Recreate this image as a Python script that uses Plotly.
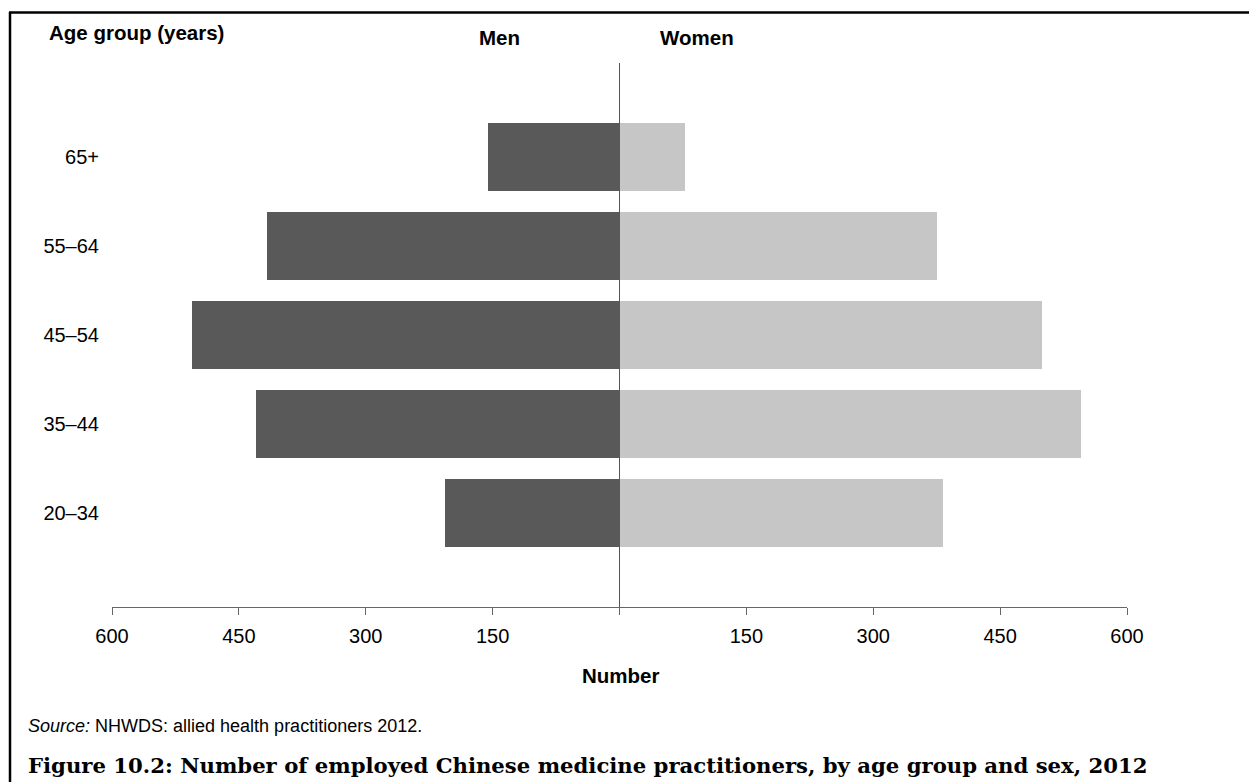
import plotly.graph_objects as go

# Page body has an 8px margin; size the figure so the page fits the 1257x782 window.
OFF = 8
W, H = 1257 - 2 * OFF, 782 - OFF

age_groups = ["20–34", "35–44", "45–54", "55–64", "65+"]
men = [206, 430, 506, 417, 155]
women = [382, 546, 499, 375, 77]

tick_vals = [-600, -450, -300, -150, 0, 150, 300, 450, 600]
tick_text = ["600", "450", "300", "150", "", "150", "300", "450", "600"]


def px(x):
    return (x - OFF) / W


def py(y):
    return 1 - (y - OFF) / H


fig = go.Figure()
fig.add_trace(go.Bar(
    y=age_groups, x=[-v for v in men], orientation="h", name="Men",
    marker=dict(color="#595959", line=dict(width=0)), width=0.764,
    customdata=men, hovertemplate="%{y}: %{customdata}<extra>Men</extra>",
))
fig.add_trace(go.Bar(
    y=age_groups, x=women, orientation="h", name="Women",
    marker=dict(color="#c6c6c6", line=dict(width=0)), width=0.764,
    hovertemplate="%{y}: %{x}<extra>Women</extra>",
))

font = "Liberation Sans, Arial, sans-serif"
fs = 20
fsb = 20.5

fig.update_layout(
    width=W, height=H,
    margin=dict(l=0, r=0, t=0, b=0, autoexpand=False),
    paper_bgcolor="white", plot_bgcolor="white",
    barmode="overlay", bargap=0,
    showlegend=False,
    font=dict(family=font, size=fs, color="black"),
    xaxis=dict(
        domain=[px(112), px(1127)], range=[-600, 600],
        tickvals=tick_vals, ticktext=tick_text,
        ticks="outside", ticklen=7, tickcolor="#666", tickwidth=1,
        showline=True, linecolor="#666", linewidth=1,
        showgrid=False, zeroline=True, zerolinecolor="#555", zerolinewidth=1,
        tickfont=dict(size=fs, family=font), ticklabelstandoff=4,
        automargin=False, fixedrange=True,
    ),
    yaxis=dict(
        domain=[py(607), py(63)], range=[-1.056, 5.056],
        type="category", showgrid=False, zeroline=False, showline=False,
        ticks="", ticklabelstandoff=12,
        tickfont=dict(size=fs, family=font),
        automargin=False, fixedrange=True,
    ),
)

annotations = [
    dict(text="<b>Age group (years)</b>", x=px(47), y=py(32), xanchor="left", yanchor="middle",
         font=dict(size=fsb, family=font)),
    dict(text="<b>Men</b>", x=px(499), y=py(37), xanchor="center", yanchor="middle",
         font=dict(size=fsb, family=font)),
    dict(text="<b>Women</b>", x=px(697), y=py(37), xanchor="center", yanchor="middle",
         font=dict(size=fsb, family=font)),
    dict(text="<b>Number</b>", x=px(620), y=py(675), xanchor="center", yanchor="middle",
         font=dict(size=fsb, family=font)),
    dict(text="<i>Source:</i> NHWDS: allied health practitioners 2012.", x=px(26), y=py(726),
         xanchor="left", yanchor="middle", font=dict(size=18, family=font)),
    dict(text="<b>Figure 10.2: Number of employed Chinese medicine practitioners, by age group and sex, 2012</b>",
         x=px(26), y=py(765), xanchor="left", yanchor="middle",
         font=dict(size=21.2, family="DejaVu Serif, serif")),
]
for a in annotations:
    a.update(xref="paper", yref="paper", showarrow=False)
fig.update_layout(annotations=annotations)

fig.add_shape(type="line", xref="paper", yref="paper", x0=px(9), x1=1, y0=py(12.5), y1=py(12.5),
              line=dict(color="black", width=2.5))
fig.add_shape(type="line", xref="paper", yref="paper", x0=px(10), x1=px(10), y0=py(12), y1=0,
              line=dict(color="black", width=2.5))

fig.write_html("out.html")
